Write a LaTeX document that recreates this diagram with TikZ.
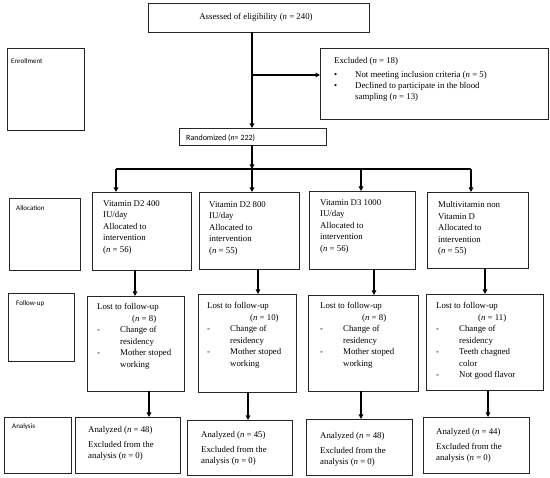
\documentclass[tikz,border=0pt]{standalone}
\usepackage{fontspec}
\setmainfont{Liberation Serif}
\newfontfamily\labfont{Carlito}
\usetikzlibrary{arrows.meta}
\tikzset{
  box/.style={draw=black!85, line width=0.8pt, inner sep=0pt, outer sep=0pt},
  txt/.style={inner sep=0pt, align=left, font=\fontsize{8.8}{11.5}\selectfont},
  lab/.style={inner sep=0pt, font=\labfont\fontsize{7}{8.5}\selectfont},
  link/.style={line width=1.1pt, draw=black},
  arr/.style={link, -{Triangle[length=4.5pt,width=4.5pt]}},
}
\newcommand\bx[5]{\node[box, minimum width={(#4-#2)*1pt}, minimum height={(#5-#3)*1pt}] (#1) at ({(#2+#4)/2},{(#3+#5)/2}) {};}
\newcommand\tx[4]{\node[txt, anchor=north west] (#1) at ({#2},{#3-3.6}) {#4};}
\newcommand\dsh{\makebox[23pt][l]{-}}
\newcommand\ind{\hspace*{23pt}}
\begin{document}
\begin{tikzpicture}[x=1pt,y=-1pt]
\useasboundingbox (0,0) rectangle (550,478);
% boxes
\bx{assess}{148}{3}{369}{32}
\bx{enroll}{7}{48}{84}{130}
\bx{excl}{320}{48}{548}{119}
\bx{rand}{179}{128}{326}{145}
\bx{alloclab}{9}{198}{80}{270}
\bx{a1}{92}{192}{191}{270}
\bx{a2}{199}{192}{299}{269}
\bx{a3}{309}{191}{415}{269}
\bx{a4}{427}{192}{528}{268}
\bx{fulab}{8}{293}{74}{361}
\bx{l1}{87}{296}{184}{391}
\bx{l2}{198}{294}{296}{392}
\bx{l3}{308}{295}{418}{391}
\bx{l4}{426}{294}{543}{390}
\bx{anlab}{4}{417}{71}{473}
\bx{n1}{75}{417}{180}{473}
\bx{n2}{187}{420}{292}{475}
\bx{n3}{306}{419}{412}{475}
\bx{n4}{423}{417}{529}{473}
% texts
\node[txt] (assessT) at (256,17) {Assessed of eligibility (\textit{n} = 240)};
\node[lab, anchor=west] (enrollT) at (11,61) {Enrollment};
\node[txt, anchor=north west, font=\fontsize{8.8}{11}\selectfont] (exclT) at (334,57.4) {Excluded (\textit{n} = 18)\\[3pt]
\makebox[21pt][l]{\textbullet}Not meeting inclusion criteria (\textit{n} = 5)\\
\makebox[21pt][l]{\textbullet}Declined to participate in the blood\\
\hspace*{21pt}sampling (\textit{n} = 13)};
\node[lab, anchor=west, font=\labfont\fontsize{8}{10}\selectfont] (randT) at (186,138) {Randomized (\textit{n}= 222)};
\node[lab, anchor=west] (allocT) at (16,208) {Allocation};
\tx{a1T}{103}{204}{Vitamin D2 400\\IU/day\\Allocated to\\intervention\\(\textit{n} = 56)}
\tx{a2T}{209}{205}{Vitamin D2 800\\IU/day\\Allocated to\\intervention\\(\textit{n} = 55)}
\tx{a3T}{320}{203}{Vitamin D3 1000\\IU/day\\Allocated to\\intervention\\(\textit{n} = 56)}
\tx{a4T}{438}{205}{Multivitamin non\\Vitamin D\\Allocated to\\intervention\\(\textit{n} = 55)}
\node[lab, anchor=west] (fuT) at (16,304) {Follow-up};
\tx{l1T}{97}{307}{Lost to follow-up\\\hspace*{35pt}(\textit{n} = 8)\\\dsh Change of\\\ind residency\\\dsh Mother stoped\\\ind working}
\tx{l2T}{207}{306}{Lost to follow-up\\\hspace*{43pt}(\textit{n} = 10)\\\dsh Change of\\\ind residency\\\dsh Mother stoped\\\ind working}
\tx{l3T}{320}{306}{Lost to follow-up\\\hspace*{42pt}(\textit{n} = 8)\\\dsh Change of\\\ind residency\\\dsh Mother stoped\\\ind working}
\tx{l4T}{436}{306}{Lost to follow-up\\\hspace*{42pt}(\textit{n} = 11)\\\dsh Change of\\\ind residency\\\dsh Teeth chagned\\\ind color\\\dsh Not good flavor}
\node[lab, anchor=west] (anT) at (12,427) {Analysis};
\tx{n1T}{88}{430}{Analyzed (\textit{n} = 48)\\[3pt]Excluded from the\\analysis (\textit{n} = 0)}
\tx{n2T}{201}{435}{Analyzed (\textit{n} = 45)\\[3pt]Excluded from the\\analysis (\textit{n} = 0)}
\tx{n3T}{320}{436}{Analyzed (\textit{n} = 48)\\[3pt]Excluded from the\\analysis (\textit{n} = 0)}
\tx{n4T}{436}{432}{Analyzed (\textit{n} = 44)\\[3pt]Excluded from the\\analysis (\textit{n} = 0)}
% connectors
\coordinate (cx) at (252,75);
\coordinate (hb) at (252,169);
\coordinate (hl) at (116,169);
\coordinate (h3) at (361,169);
\coordinate (hr) at (471,169);
\draw[arr] (assess.south -| cx) -- (rand.north -| cx);
\draw[arr] (cx) -- (cx -| excl.west);
\draw[arr] (rand.south -| hb) -- (hb);
\draw[link] (hl) -- (hr);
\draw[arr] (hl) -- (hl |- a1.north);
\draw[arr] (hb) -- (hb |- a2.north);
\draw[arr] (h3) -- (h3 |- a3.north);
\draw[arr] (hr) -- (hr |- a4.north);
\coordinate (v1) at (135,280);
\coordinate (v2) at (258,280);
\coordinate (v3) at (374,280);
\coordinate (v4) at (485,280);
\draw[arr] (a1.south -| v1) -- (l1.north -| v1);
\draw[arr] (a2.south -| v2) -- (l2.north -| v2);
\draw[arr] (a3.south -| v3) -- (l3.north -| v3);
\draw[arr] (a4.south -| v4) -- (l4.north -| v4);
\coordinate (w1) at (149,400);
\coordinate (w2) at (248,400);
\coordinate (w3) at (361,400);
\coordinate (w4) at (488,400);
\draw[arr] (l1.south -| w1) -- (n1.north -| w1);
\draw[arr] (l2.south -| w2) -- (n2.north -| w2);
\draw[arr] (l3.south -| w3) -- (n3.north -| w3);
\draw[arr] (l4.south -| w4) -- (n4.north -| w4);
\end{tikzpicture}
\end{document}
